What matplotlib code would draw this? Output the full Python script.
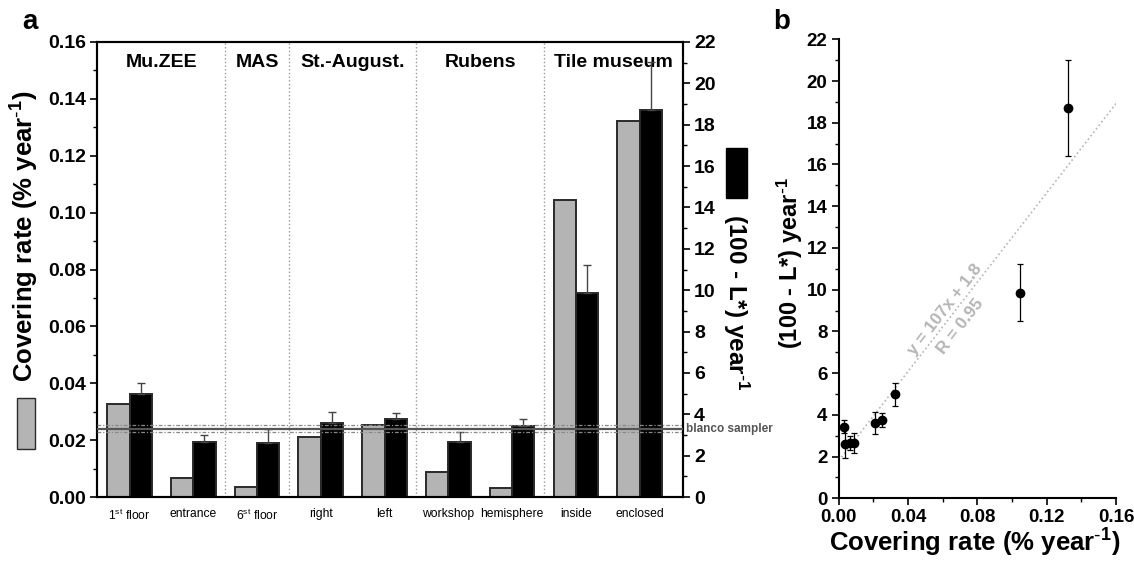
import numpy as np
import matplotlib
matplotlib.use('Agg')
import matplotlib.pyplot as plt
from matplotlib.patches import Rectangle
from matplotlib.ticker import MultipleLocator

plt.rcParams['font.family'] = ['Liberation Sans', 'DejaVu Sans']
plt.rcParams['mathtext.default'] = 'regular'

# data
categories = ['1$^{st}$ floor', 'entrance', '6$^{st}$ floor', 'right', 'left',
              'workshop', 'hemisphere', 'inside', 'enclosed']
covering_rate = [0.0326, 0.0068, 0.0034, 0.0212, 0.0252, 0.0088, 0.0033, 0.1044, 0.1323]
darkening = [4.98, 2.66, 2.62, 3.59, 3.75, 2.66, 3.44, 9.86, 18.71]
darkening_err = [0.54, 0.33, 0.68, 0.53, 0.32, 0.48, 0.31, 1.35, 2.30]

groups = ['Mu.ZEE', 'MAS', 'St.-August.', 'Rubens', 'Tile museum']
group_bounds = [1.5, 2.5, 4.5, 6.5]

blanco_mean = 3.30
blanco_low = 3.13
blanco_high = 3.48

fit_slope = 107
fit_intercept = 1.8

# styles
GRAY = '#b4b4b4'
EDGE = '#2a2a2a'
FIT_GRAY = '#b5b5b5'
BAR_WIDTH = 0.35
W, H = 1134, 564
COVER_LABEL = r'Covering rate (% year$^{\text{-}1}$)'
DARK_LABEL = r'(100 - L*) year$^{\text{-}1}$'

fig = plt.figure(figsize=(W / 100, H / 100), dpi=100)


def px(x, y):
    return x / W, 1 - y / H


# ---------------- panel a ----------------
ax1 = fig.add_axes([97 / W, 1 - 497 / H, 586 / W, 455 / H])
ax2 = ax1.twinx()
x = np.arange(len(categories))

ax1.bar(x - BAR_WIDTH / 2, covering_rate, BAR_WIDTH, color=GRAY, edgecolor=EDGE, linewidth=1.4, zorder=2)
ax2.bar(x + BAR_WIDTH / 2, darkening, BAR_WIDTH, color='black', edgecolor=EDGE, linewidth=1.4, zorder=2)
ax2.errorbar(x + BAR_WIDTH / 2, darkening, yerr=[np.zeros(len(darkening)), darkening_err],
             fmt='none', ecolor='#444444', elinewidth=1.0, capsize=3, capthick=1.0, zorder=3)

ax1.set_xlim(-0.51, 8.68)
ax1.set_ylim(0, 0.16)
ax2.set_ylim(0, 22)

# group separators and labels
for b in group_bounds:
    ax1.axvline(b, color='#999999', linestyle=':', linewidth=1.0, zorder=1)
edges = [ax1.get_xlim()[0]] + group_bounds + [ax1.get_xlim()[1]]
for i, g in enumerate(groups):
    ax1.text((edges[i] + edges[i + 1]) / 2, 0.1557, g, ha='center', va='top',
             fontsize=14, fontweight='bold')

# blanco sampler
ax2.axhline(blanco_mean, color='#555555', linewidth=1.6, zorder=4)
for v in (blanco_low, blanco_high):
    ax2.axhline(v, color='#888888', linewidth=0.9, linestyle=(0, (3, 1.5, 1, 1.5)), zorder=4)
ax2.text(1.005, blanco_mean, 'blanco sampler', transform=ax2.get_yaxis_transform(),
         ha='left', va='center', fontsize=8.5, fontweight='bold', color='#555555')

ax1.set_xticks(x)
ax1.set_xticklabels(categories, fontsize=8.7)
ax1.tick_params(axis='x', length=0, pad=8)

ax1.yaxis.set_major_locator(MultipleLocator(0.02))
ax1.yaxis.set_minor_locator(MultipleLocator(0.01))
ax1.yaxis.set_major_formatter(plt.FormatStrFormatter('%.2f'))
ax2.yaxis.set_major_locator(MultipleLocator(2))
ax2.yaxis.set_minor_locator(MultipleLocator(1))
for ax in (ax1, ax2):
    ax.tick_params(axis='y', which='major', direction='out', length=5, width=1.2, labelsize=14, pad=3)
    ax.tick_params(axis='y', which='minor', direction='out', length=3, width=1.0)
    for lab in ax.get_yticklabels():
        lab.set_fontweight('bold')
    for s in ax.spines.values():
        s.set_linewidth(1.5)

fig.text(*px(25, 236), COVER_LABEL, rotation=90, ha='center', va='center',
         fontsize=18.5, fontweight='bold')
fig.text(*px(736, 302), DARK_LABEL, rotation=270, ha='center', va='center',
         fontsize=17.5, fontweight='bold')
fig.add_artist(Rectangle(px(17, 449), 18 / W, 51 / H, transform=fig.transFigure,
                         facecolor=GRAY, edgecolor=EDGE, linewidth=1.0))
fig.add_artist(Rectangle(px(726, 198), 21 / W, 50 / H, transform=fig.transFigure,
                         facecolor='black', edgecolor='black', linewidth=1.0))
fig.text(*px(30, 22), 'a', ha='center', va='center', fontsize=20, fontweight='bold')

# ---------------- panel b ----------------
axb = fig.add_axes([838.7 / W, 1 - 498.3 / H, 277.3 / W, 459 / H])
fit_x = np.array([0.0, 0.16])
axb.plot(fit_x, fit_slope * fit_x + fit_intercept, color=FIT_GRAY, linestyle=':', linewidth=1.2, zorder=1)
axb.errorbar(covering_rate, darkening, yerr=darkening_err, fmt='o', color='black',
             markersize=6, elinewidth=0.9, capsize=2.3, capthick=0.9, zorder=3)

axb.set_xlim(0, 0.16)
axb.set_ylim(0, 22)
axb.spines['top'].set_visible(False)
axb.spines['right'].set_visible(False)
for s in ('left', 'bottom'):
    axb.spines[s].set_linewidth(1.5)
axb.xaxis.set_major_locator(MultipleLocator(0.04))
axb.xaxis.set_minor_locator(MultipleLocator(0.02))
axb.xaxis.set_major_formatter(plt.FormatStrFormatter('%.2f'))
axb.yaxis.set_major_locator(MultipleLocator(2))
axb.yaxis.set_minor_locator(MultipleLocator(1))
axb.tick_params(which='major', direction='out', length=5, width=1.2, labelsize=13.5, pad=3)
axb.tick_params(which='minor', direction='out', length=3, width=1.0)
for lab in axb.get_xticklabels() + axb.get_yticklabels():
    lab.set_fontweight('bold')

fig.text(*px(975, 543), COVER_LABEL, ha='center', va='center', fontsize=18.5, fontweight='bold')
fig.text(*px(790, 263), DARK_LABEL, rotation=90, ha='center', va='center',
         fontsize=17, fontweight='bold')

angle = np.degrees(np.arctan(fit_slope * (459 / 22) / (277.3 / 0.16)))
axb.text(0.0614, 9.05, 'y = 107x + 1.8', rotation=angle, rotation_mode='anchor',
         ha='center', va='center', fontsize=12.3, fontweight='bold', color=FIT_GRAY)
axb.text(0.070, 8.25, 'R = 0.95', rotation=angle, rotation_mode='anchor',
         ha='center', va='center', fontsize=12.3, fontweight='bold', color=FIT_GRAY)
fig.text(*px(782, 22), 'b', ha='center', va='center', fontsize=20, fontweight='bold')

plt.savefig('out.png', dpi=100)
